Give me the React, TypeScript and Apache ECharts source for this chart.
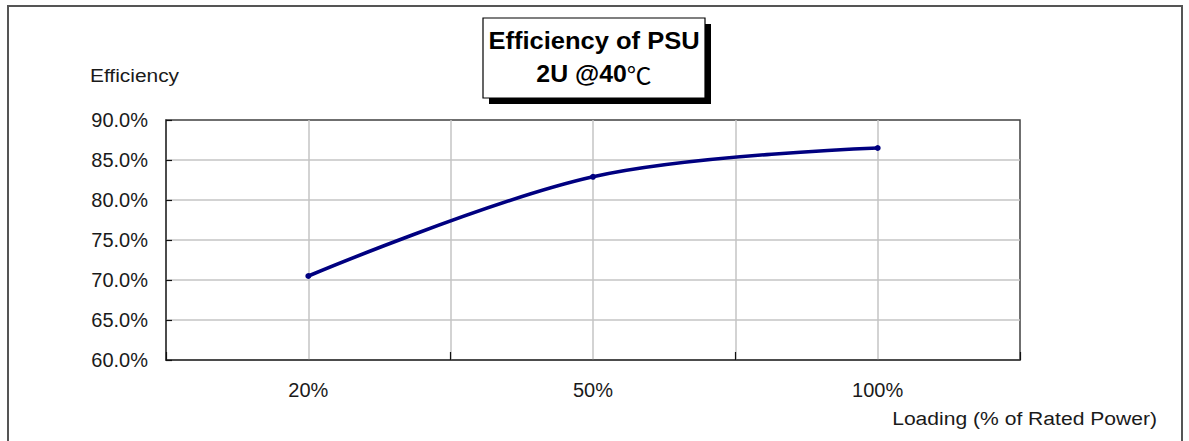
import React, { useEffect, useRef } from "react";
import * as echarts from "echarts";

const categories = ["20%", "50%", "100%"];
const efficiency = [70.5, 82.9, 86.5];
const yMin = 60;
const yMax = 90;
const yStep = 5;
const titleLine1 = "Efficiency of PSU";
const titleLine2 = "2U @40";
const yAxisTitle = "Efficiency";
const xAxisTitle = "Loading (% of Rated Power)";

const FONT = "'Liberation Sans', Arial, sans-serif";
const TEXT = "#1a1a1a";
const FRAME = "#404040";
const GRIDC = "#c4c4c4";

export default function App() {
  const ref = useRef<HTMLDivElement>(null);
  useEffect(() => {
    if (!ref.current) return;
    const chart = echarts.init(ref.current, null, { renderer: "svg" });
    chart.setOption({
      animation: false,
      backgroundColor: "#ffffff",
      grid: {
        left: 166,
        right: 169,
        top: 120,
        bottom: 81,
        show: true,
        borderColor: FRAME,
        borderWidth: 1.5,
        backgroundColor: "transparent",
      },
      xAxis: [
        {
          type: "value",
          position: "top",
          min: 0,
          max: categories.length,
          interval: 0.5,
          axisLine: { show: false },
          axisTick: { show: false },
          axisLabel: { show: false },
          splitLine: {
            show: true,
            showMinLine: false,
            showMaxLine: false,
            lineStyle: { color: GRIDC, width: 1.5 },
          },
        },
        {
          type: "category",
          position: "bottom",
          data: categories,
          boundaryGap: true,
          axisLine: { show: true, lineStyle: { color: FRAME, width: 1.5 } },
          axisTick: { show: true, inside: true, length: 8, lineStyle: { color: "#111", width: 1.2 } },
          axisLabel: { show: true, fontSize: 20, fontFamily: FONT, color: TEXT, margin: 20 },
          splitLine: { show: false },
        },
      ],
      yAxis: [
        {
          type: "value",
          min: yMin,
          max: yMax,
          interval: yStep,
          axisLine: { show: true, lineStyle: { color: FRAME, width: 1.5 } },
          axisTick: { show: true, inside: true, length: 6, lineStyle: { color: "#111", width: 1.2 } },
          axisLabel: {
            show: true,
            fontSize: 20,
            fontFamily: FONT,
            color: TEXT,
            margin: 18,
            formatter: (v: number) => v.toFixed(1) + "%",
          },
          splitLine: {
            show: true,
            showMinLine: false,
            showMaxLine: false,
            lineStyle: { color: GRIDC, width: 1.5 },
          },
        },
      ],
      series: [
        {
          type: "line",
          xAxisIndex: 1,
          yAxisIndex: 0,
          data: efficiency,
          smooth: 0.35,
          symbol: "circle",
          symbolSize: 6,
          showSymbol: true,
          z: 5,
          itemStyle: { color: "#000080" },
          lineStyle: { color: "#000080", width: 3.6 },
        },
      ],
      graphic: [
        {
          type: "rect",
          shape: { x: 8, y: 6, width: 1174, height: 470 },
          style: { fill: "none", stroke: "#555555", lineWidth: 2 },
          silent: true,
        },
        {
          type: "rect",
          shape: { x: 489, y: 24, width: 222, height: 80 },
          style: { fill: "#000000" },
          silent: true,
        },
        {
          type: "rect",
          shape: { x: 483, y: 18, width: 222, height: 80 },
          style: { fill: "#ffffff", stroke: "#000000", lineWidth: 1.2 },
          silent: true,
        },
        {
          type: "text",
          x: 594,
          y: 41,
          scaleX: 1.11,
          style: {
            text: titleLine1,
            font: `bold 23px ${FONT}`,
            fill: "#000000",
            align: "center",
            verticalAlign: "middle",
          },
          silent: true,
        },
        {
          type: "text",
          x: 594,
          y: 74,
          scaleX: 1.08,
          style: {
            text: `{b|${titleLine2}}{c|℃}`,
            align: "center",
            verticalAlign: "middle",
            rich: {
              b: { fontFamily: FONT, fontWeight: "bold", fontSize: 23, fill: "#000000", color: "#000000" },
              c: { fontFamily: "'Noto Sans CJK SC', sans-serif", fontWeight: "normal", fontSize: 23, fill: "#000000", color: "#000000" },
            },
          },
          silent: true,
        },
        {
          type: "text",
          x: 90,
          y: 75,
          scaleX: 1.1,
          style: {
            text: yAxisTitle,
            font: `19px ${FONT}`,
            fill: TEXT,
            align: "left",
            verticalAlign: "middle",
          },
          silent: true,
        },
        {
          type: "text",
          x: 1157,
          y: 418,
          scaleX: 1.11,
          style: {
            text: xAxisTitle,
            font: `19px ${FONT}`,
            fill: TEXT,
            align: "right",
            verticalAlign: "middle",
          },
          silent: true,
        },
      ],
    });
    return () => chart.dispose();
  }, []);
  return (
    <div
      ref={ref}
      style={{ position: "absolute", left: 0, top: 0, width: 1189, height: 441 }}
    />
  );
}
